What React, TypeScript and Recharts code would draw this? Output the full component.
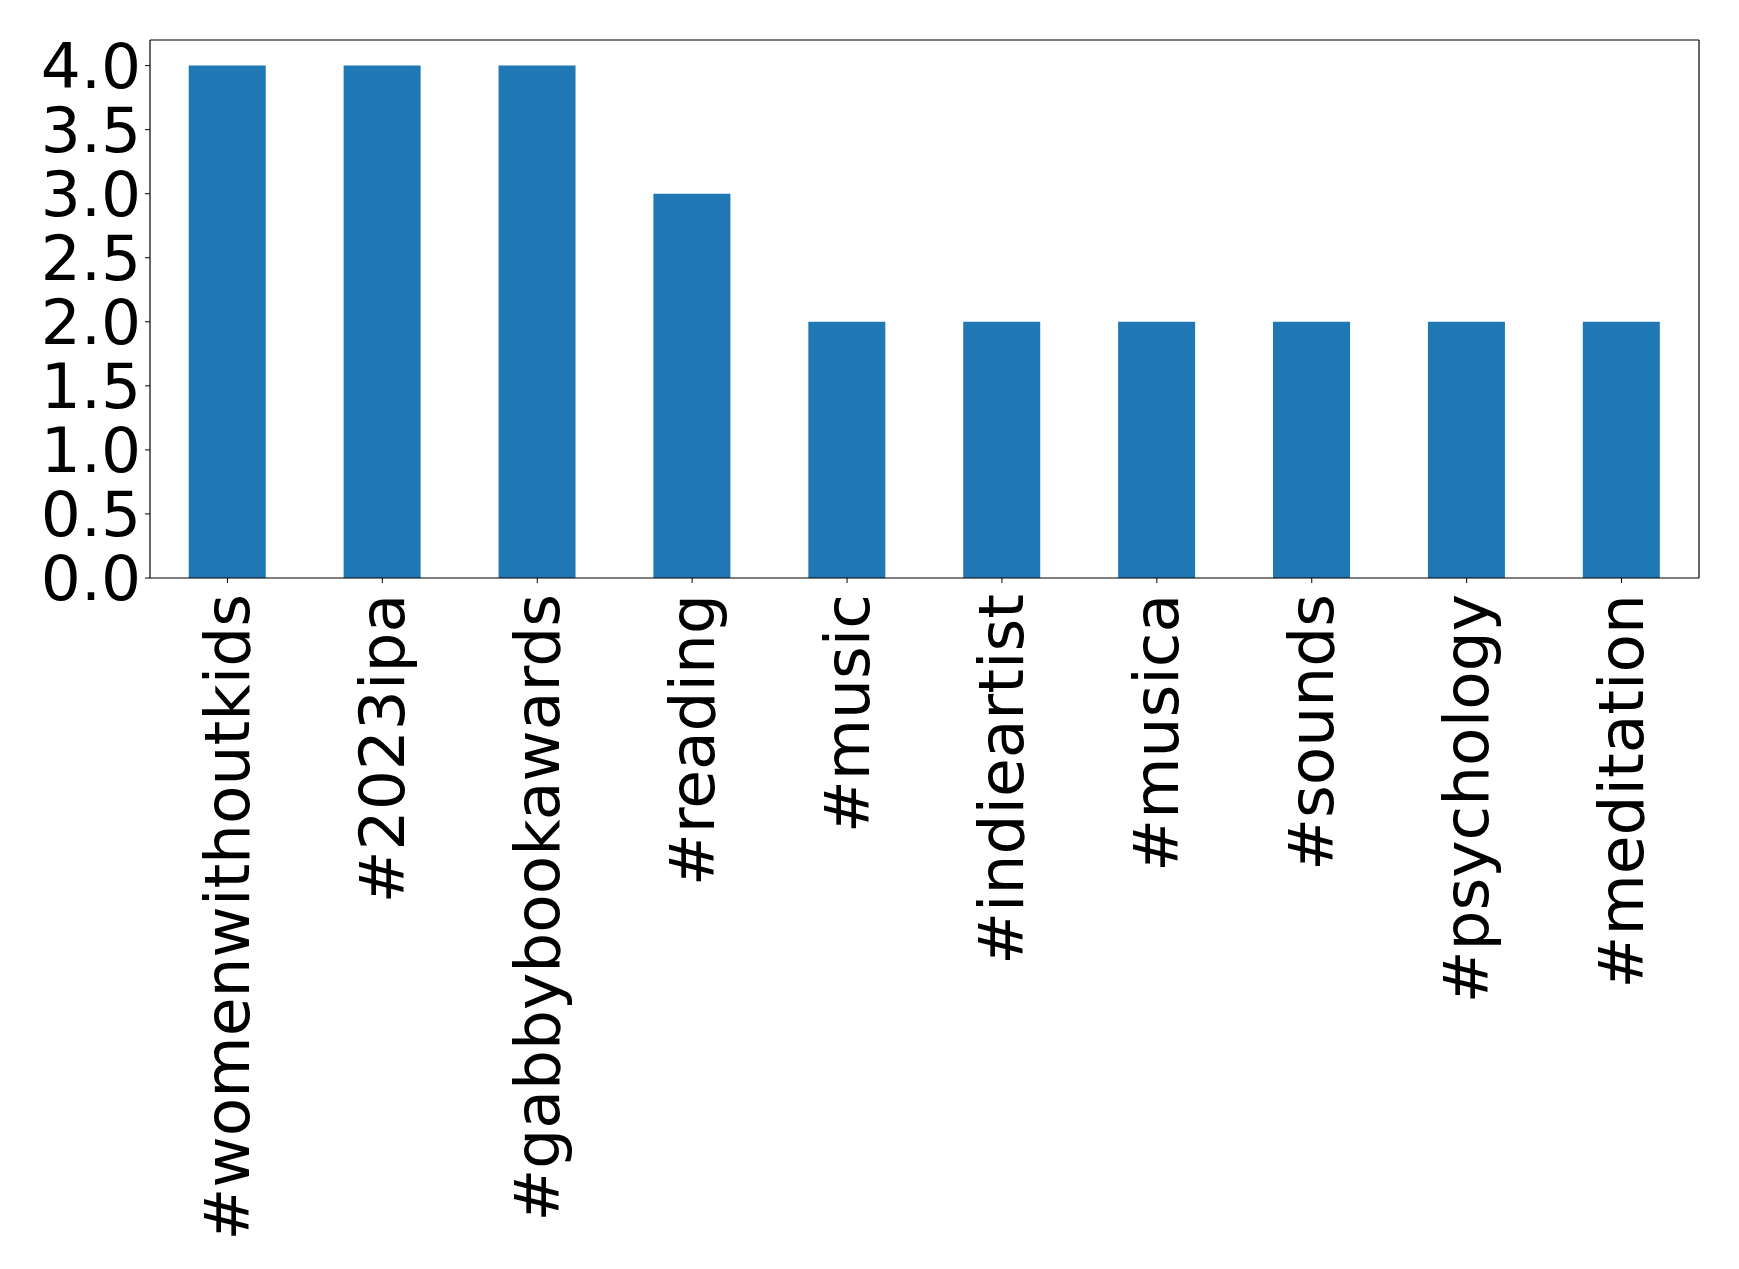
import { Bar, BarChart, CartesianGrid, XAxis, YAxis } from 'recharts';

const hashtags = [
  '#womenwithoutkids',
  '#2023ipa',
  '#gabbybookawards',
  '#reading',
  '#music',
  '#indieartist',
  '#musica',
  '#sounds',
  '#psychology',
  '#meditation',
];
const counts = [4, 4, 4, 3, 2, 2, 2, 2, 2, 2];
const yTicks = [0, 0.5, 1, 1.5, 2, 2.5, 3, 3.5, 4];

const data = hashtags.map((tag, i) => ({ tag, count: counts[i] }));

const FONT = 'DejaVu Sans';
const FONT_SIZE = 63;

// eslint-disable-next-line @typescript-eslint/no-explicit-any
function RotatedTick({ x, y, payload }: any) {
  return (
    <text
      transform={`translate(${x},${y + 9}) rotate(-90)`}
      textAnchor='end'
      dominantBaseline='central'
      fontFamily={FONT}
      fontSize={FONT_SIZE}
      fill='#000'
    >
      {payload.value}
    </text>
  );
}

// top and right frame lines, drawn through the grid generators
// eslint-disable-next-line @typescript-eslint/no-explicit-any
const topLine = ({ offset }: any) => [offset.top];
// eslint-disable-next-line @typescript-eslint/no-explicit-any
const rightLine = ({ offset }: any) => [offset.left + offset.width];

export default function App() {
  return (
    <div style={{ position: 'absolute', left: 0, top: 0, background: '#fff' }}>
      <BarChart width={1739} height={1269} data={data} margin={{ top: 40, right: 40, left: 0, bottom: 0 }} barCategoryGap='25%'>
        <CartesianGrid
          stroke='#000'
          strokeWidth={1.2}
          horizontalCoordinatesGenerator={topLine}
          verticalCoordinatesGenerator={rightLine}
        />
        <XAxis
          dataKey='tag'
          height={691}
          interval={0}
          tickSize={5}
          tickLine={{ stroke: '#000' }}
          axisLine={{ stroke: '#000', strokeWidth: 1.2 }}
          tick={<RotatedTick />}
        />
        <YAxis
          width={150}
          domain={[0, 4.2]}
          ticks={yTicks}
          interval={0}
          tickSize={5}
          tickMargin={4}
          tickFormatter={(v: number) => v.toFixed(1)}
          tickLine={{ stroke: '#000' }}
          axisLine={{ stroke: '#000', strokeWidth: 1.2 }}
          tick={{ fill: '#000', fontFamily: FONT, fontSize: FONT_SIZE }}
        />
        <Bar dataKey='count' fill='#1f77b4' isAnimationActive={false} />
      </BarChart>
    </div>
  );
}
